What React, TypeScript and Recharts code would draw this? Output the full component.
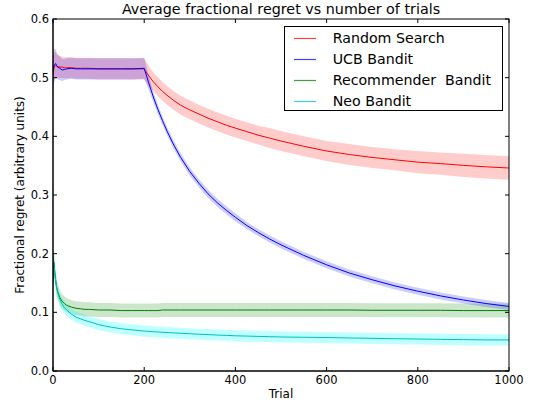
import { ComposedChart, Line, Area, XAxis, YAxis } from "recharts"

const TRIALS = [
    0, 2, 4, 6, 8, 10, 15, 20, 25, 30, 40, 50, 60, 70, 80, 100, 125, 150, 175, 200,
    210, 220, 230, 240, 250, 265, 280, 300, 320, 340, 360, 380, 400, 425, 450, 475,
    500, 550, 600, 650, 700, 750, 800, 850, 900, 950, 1000
]

const RANDOM_SEARCH = [
    0.505, 0.516, 0.52, 0.521, 0.52, 0.519, 0.518, 0.518, 0.517, 0.517, 0.517, 0.516, 0.516, 0.516, 0.516, 0.515, 0.515, 0.515, 0.515, 0.515,
    0.503, 0.493, 0.4845, 0.4768, 0.47, 0.461, 0.453, 0.445, 0.438, 0.431, 0.425, 0.419, 0.414, 0.408, 0.402, 0.397,
    0.392, 0.383, 0.375, 0.369, 0.364, 0.36, 0.356, 0.3535, 0.3505, 0.348, 0.346
]
const RANDOM_SPREAD = [
    0.03, 0.026, 0.024, 0.022, 0.021, 0.02, 0.019, 0.018, 0.018, 0.018, 0.018, 0.018, 0.018, 0.018, 0.018, 0.018, 0.018, 0.018, 0.018, 0.018,
    0.017, 0.016, 0.016, 0.016, 0.016, 0.016, 0.016, 0.016, 0.016, 0.016, 0.016, 0.016, 0.016, 0.016, 0.016, 0.017,
    0.017, 0.017, 0.017, 0.018, 0.018, 0.018, 0.019, 0.019, 0.02, 0.02, 0.02
]

const UCB = [
    0.512, 0.52, 0.523, 0.524, 0.521, 0.518, 0.516, 0.513, 0.514, 0.515, 0.516, 0.515, 0.515, 0.515, 0.515, 0.515, 0.515, 0.515, 0.515, 0.516,
    0.491, 0.467, 0.446, 0.427, 0.409, 0.385, 0.364, 0.34, 0.32, 0.302, 0.287, 0.274, 0.262, 0.248, 0.236, 0.225,
    0.215, 0.197, 0.181, 0.167, 0.1555, 0.145, 0.136, 0.128, 0.121, 0.115, 0.11
]
const UCB_SPREAD = [
    0.032, 0.028, 0.026, 0.024, 0.022, 0.021, 0.02, 0.019, 0.018, 0.018, 0.018, 0.018, 0.018, 0.018, 0.018, 0.018, 0.018, 0.018, 0.018, 0.018,
    0.012, 0.009, 0.008, 0.007, 0.007, 0.007, 0.007, 0.007, 0.007, 0.007, 0.007, 0.007, 0.007, 0.006, 0.006, 0.006,
    0.006, 0.006, 0.006, 0.006, 0.006, 0.006, 0.006, 0.006, 0.006, 0.006, 0.006
]

const RECOMMENDER = [
    0.15, 0.185, 0.168, 0.153, 0.143, 0.136, 0.125, 0.119, 0.115, 0.112, 0.109, 0.107, 0.106, 0.105, 0.105, 0.104, 0.104, 0.103, 0.103, 0.103,
    0.103, 0.103, 0.103, 0.104, 0.104, 0.104, 0.104, 0.104, 0.104, 0.104, 0.104, 0.104, 0.104, 0.104, 0.104, 0.104,
    0.104, 0.104, 0.104, 0.104, 0.1035, 0.1035, 0.1035, 0.1035, 0.103, 0.103, 0.103
]
const RECOMMENDER_SPREAD = [
    0.035, 0.025, 0.018, 0.016, 0.015, 0.014, 0.013, 0.012, 0.012, 0.012, 0.012, 0.012, 0.012, 0.012, 0.012, 0.012, 0.012, 0.012, 0.012, 0.012,
    0.012, 0.012, 0.012, 0.012, 0.012, 0.012, 0.012, 0.012, 0.012, 0.012, 0.012, 0.012, 0.012, 0.012, 0.012, 0.012,
    0.012, 0.012, 0.012, 0.012, 0.012, 0.012, 0.012, 0.012, 0.012, 0.012, 0.012
]

const NEO = [
    0.2, 0.182, 0.166, 0.153, 0.142, 0.134, 0.122, 0.114, 0.108, 0.104, 0.097, 0.092, 0.089, 0.086, 0.084, 0.079, 0.075, 0.072, 0.07, 0.068,
    0.0675, 0.067, 0.0665, 0.066, 0.0655, 0.065, 0.0643, 0.0635, 0.0627, 0.062, 0.0613, 0.0607, 0.06, 0.0595, 0.059, 0.0585,
    0.058, 0.0575, 0.057, 0.0563, 0.0557, 0.055, 0.0545, 0.054, 0.0535, 0.053, 0.053
]
const NEO_SPREAD = [
    0.015, 0.014, 0.013, 0.012, 0.012, 0.011, 0.011, 0.01, 0.01, 0.01, 0.0095, 0.0095, 0.0095, 0.0095, 0.0095, 0.0095, 0.0095, 0.0095, 0.0095, 0.0095,
    0.0095, 0.0095, 0.0095, 0.0095, 0.0095, 0.0095, 0.0095, 0.0095, 0.0095, 0.0095, 0.0095, 0.0095, 0.0095, 0.0095, 0.0095, 0.0095,
    0.0095, 0.0095, 0.0095, 0.0095, 0.0095, 0.0095, 0.0095, 0.0095, 0.0095, 0.0095, 0.0095
]

const X_TICKS = [0, 200, 400, 600, 800, 1000]
const Y_TICKS = [0, 0.1, 0.2, 0.3, 0.4, 0.5, 0.6]

const SERIES = [
    { key: "random", name: "Random Search", color: "#ff0000", fill: "#ff0000", mean: RANDOM_SEARCH, spread: RANDOM_SPREAD },
    { key: "ucb", name: "UCB Bandit", color: "#0000ff", fill: "#0000ff", mean: UCB, spread: UCB_SPREAD },
    { key: "recommender", name: "Recommender  Bandit", color: "#008000", fill: "#008000", mean: RECOMMENDER, spread: RECOMMENDER_SPREAD },
    { key: "neo", name: "Neo Bandit", color: "#00bfbf", fill: "#00ffff", mean: NEO, spread: NEO_SPREAD }
]

const FONT = "DejaVu Sans"

// plot frame (matches chart margins / axis sizes below)
const PLOT_LEFT = 53
const PLOT_RIGHT = 509
const PLOT_TOP = 19
const PLOT_BOTTOM = 371

// one row per trial, band = [mean - spread, mean + spread]
const chartData = TRIALS.map((trial, i) => {
    const row: Record<string, any> = { trial }
    SERIES.forEach(s => {
        row[s.key] = s.mean[i]
        row[s.key + "Band"] = [s.mean[i] - s.spread[i], s.mean[i] + s.spread[i]]
    })
    return row
})

// matplotlib style: ticks point inward, on both sides
function XTick(props: any) {
    const { x, y, payload } = props
    return (
        <g>
            <line x1={x} x2={x} y1={PLOT_BOTTOM} y2={PLOT_BOTTOM - 4} stroke="#000" />
            <line x1={x} x2={x} y1={PLOT_TOP} y2={PLOT_TOP + 4} stroke="#000" />
            <text x={x} y={y} dy="0.71em" textAnchor="middle" fill="#000" fontSize={11.5} fontFamily={FONT}>
                {payload.value}
            </text>
        </g>
    )
}

function YTick(props: any) {
    const { x, y, payload } = props
    return (
        <g>
            <line x1={PLOT_LEFT} x2={PLOT_LEFT + 4} y1={y} y2={y} stroke="#000" />
            <line x1={PLOT_RIGHT} x2={PLOT_RIGHT - 4} y1={y} y2={y} stroke="#000" />
            <text x={x} y={y} dy="0.355em" textAnchor="end" fill="#000" fontSize={11.5} fontFamily={FONT}>
                {Number(payload.value).toFixed(1)}
            </text>
        </g>
    )
}

function LegendBox() {
    return (
        <div style={{
            position: "absolute", left: 284, top: 26, width: 219, height: 85, zIndex: 5,
            border: "1px solid #000", boxSizing: "border-box", background: "#fff", fontFamily: FONT
        }}>
            {SERIES.map((s, i) => (
                <div key={s.key} style={{ position: "absolute", left: 0, top: 0.8 + i * 21.1, width: 215, height: 21 }}>
                    <svg width={40} height={21} style={{ position: "absolute", left: 0, top: 0 }}>
                        <line x1={9} x2={31} y1={10.5} y2={10.5} stroke={s.color} strokeOpacity={0.75} strokeWidth={1.2} />
                    </svg>
                    <span style={{
                        position: "absolute", left: 47.7, top: 0, lineHeight: "21px",
                        fontSize: 14.2, whiteSpace: "pre", color: "#000"
                    }}>{s.name}</span>
                </div>
            ))}
        </div>
    )
}

export default function App() {
    return (
        <div style={{ position: "absolute", left: 0, top: 0, width: 536, height: 407, background: "#fff", fontFamily: FONT }}>
            <div style={{ position: "absolute", left: 53, top: 1, width: 456, textAlign: "center", fontSize: 14.3, lineHeight: "normal", color: "#000" }}>
                Average fractional regret vs number of trials
            </div>
            <ComposedChart width={536} height={407} data={chartData} margin={{ top: PLOT_TOP, right: 536 - PLOT_RIGHT, bottom: 0, left: 0 }}>
                <XAxis dataKey="trial" type="number" domain={[0, 1000]} ticks={X_TICKS} height={407 - PLOT_BOTTOM}
                    tickLine={false} tickSize={0} tickMargin={5} axisLine={{ stroke: "#000" }}
                    tick={<XTick />} allowDataOverflow />
                <YAxis type="number" domain={[0, 0.6]} ticks={Y_TICKS} width={PLOT_LEFT}
                    tickLine={false} tickSize={0} tickMargin={4} axisLine={{ stroke: "#000" }}
                    tick={<YTick />} allowDataOverflow />
                {SERIES.flatMap(s => [
                    <Area key={s.key + "Band"} dataKey={s.key + "Band"} type="linear" stroke="none"
                        fill={s.fill} fillOpacity={s.key === "neo" ? 0.25 : 0.2} isAnimationActive={false}
                        dot={false} activeDot={false} legendType="none" />,
                    <Line key={s.key} dataKey={s.key} name={s.name} type="linear" stroke={s.color} strokeWidth={1}
                        dot={false} activeDot={false} isAnimationActive={false} />
                ])}
            </ComposedChart>
            <svg width={536} height={407} style={{ position: "absolute", left: 0, top: 0, pointerEvents: "none" }}>
                <rect x={PLOT_LEFT} y={PLOT_TOP} width={PLOT_RIGHT - PLOT_LEFT} height={PLOT_BOTTOM - PLOT_TOP}
                    fill="none" stroke="#000" strokeWidth={1} />
            </svg>
            <LegendBox />
            <div style={{ position: "absolute", left: 53, top: 386.5, width: 456, textAlign: "center", fontSize: 12, color: "#000" }}>
                Trial
            </div>
            <div style={{
                position: "absolute", left: -130, top: 188, width: 300, height: 14, lineHeight: "14px",
                textAlign: "center", fontSize: 12, color: "#000", transform: "rotate(-90deg)"
            }}>
                Fractional regret (arbitrary units)
            </div>
        </div>
    )
}
